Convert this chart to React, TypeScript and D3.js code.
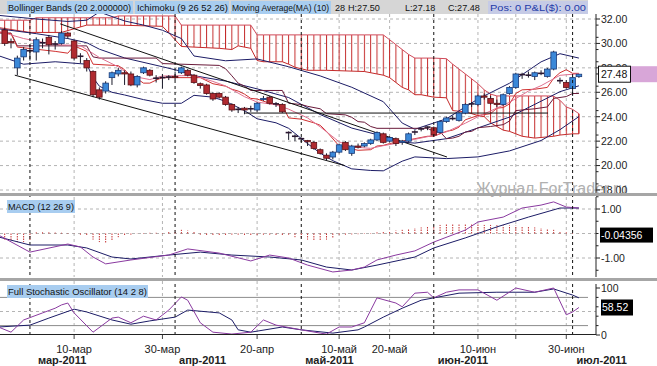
import * as d3 from "d3";

// ---- data ----------------------------------------------------------------
const DAYS = [
  "2011-02-23","2011-02-24","2011-02-25","2011-02-28",
  "2011-03-01","2011-03-02","2011-03-03","2011-03-04","2011-03-07","2011-03-08","2011-03-09","2011-03-10","2011-03-11",
  "2011-03-14","2011-03-15","2011-03-16","2011-03-17","2011-03-18","2011-03-21","2011-03-22","2011-03-23","2011-03-24",
  "2011-03-25","2011-03-28","2011-03-29","2011-03-30","2011-03-31",
  "2011-04-01","2011-04-04","2011-04-05","2011-04-06","2011-04-07","2011-04-08","2011-04-11","2011-04-12","2011-04-13",
  "2011-04-14","2011-04-15","2011-04-18","2011-04-19","2011-04-20","2011-04-21","2011-04-25","2011-04-26","2011-04-27",
  "2011-04-28","2011-04-29",
  "2011-05-02","2011-05-03","2011-05-04","2011-05-05","2011-05-06","2011-05-09","2011-05-10","2011-05-11","2011-05-12",
  "2011-05-13","2011-05-16","2011-05-17","2011-05-18","2011-05-19","2011-05-20","2011-05-23","2011-05-24","2011-05-25",
  "2011-05-26","2011-05-27","2011-05-31",
  "2011-06-01","2011-06-02","2011-06-03","2011-06-06","2011-06-07","2011-06-08","2011-06-09","2011-06-10","2011-06-13",
  "2011-06-14","2011-06-15","2011-06-16","2011-06-17","2011-06-20","2011-06-21","2011-06-22","2011-06-23","2011-06-24",
  "2011-06-27","2011-06-28","2011-06-29","2011-06-30",
  "2011-07-01","2011-07-05",
];

const OPEN = [31.1,30.15,28.0,28.9,29.45,29.3,30.1,30.5,29.9,30.0,30.85,30.2,28.9,28.6,27.7,26.2,26.1,27.2,27.5,27.6,27.5,26.6,27.6,27.8,27.1,27.25,27.2,27.3,27.6,27.8,27.4,26.7,26.6,25.9,25.9,25.6,25.0,24.65,24.7,24.6,24.55,25.4,25.6,25.0,25.0,22.7,22.45,22.25,22.05,21.9,21.3,20.85,20.7,21.1,21.9,21.0,21.6,21.6,21.8,22.1,22.6,22.0,22.2,21.9,22.0,22.7,23.0,23.1,23.1,22.7,23.6,23.9,23.7,24.3,25.0,25.0,25.7,25.5,25.1,25.0,25.9,26.4,27.4,27.45,27.3,27.6,27.3,27.9,26.9,26.8,26.3,27.28];
const HIGH = [31.3,30.4,29.0,29.7,29.9,30.5,30.4,30.7,30.2,31.0,30.95,30.3,29.2,28.8,27.8,26.4,26.9,27.7,28.0,27.8,27.7,27.4,28.1,27.9,27.4,27.5,27.4,27.7,28.1,27.9,27.5,26.8,26.7,26.0,26.0,25.7,25.1,24.8,24.8,24.9,25.2,25.7,25.7,25.2,25.1,22.8,22.55,22.3,22.1,22.0,21.4,21.0,21.2,21.8,22.0,21.7,21.8,21.9,22.2,22.8,22.7,22.4,22.3,22.1,22.7,22.9,23.1,23.2,23.2,23.7,24.0,24.1,24.4,25.1,25.2,25.8,25.9,25.7,25.4,25.9,26.5,27.6,27.6,27.7,27.7,27.8,28.0,29.4,27.2,27.0,27.3,27.5];
const LOW = [29.8,29.6,27.4,28.6,28.6,28.6,29.6,29.1,29.5,29.9,30.4,28.6,28.4,27.7,25.6,25.4,25.9,26.6,27.3,26.6,26.5,26.4,27.5,27.3,26.8,26.3,27.0,27.0,27.5,27.3,26.7,26.3,25.8,25.3,25.5,24.9,24.4,24.3,24.2,24.4,24.4,25.3,25.0,24.8,24.3,22.1,22.0,21.9,21.6,21.3,20.9,20.4,20.5,21.0,21.2,20.8,21.4,21.5,21.7,22.0,21.8,21.9,21.6,21.7,21.9,22.5,22.8,22.9,22.4,22.6,23.5,23.7,23.6,24.2,24.8,24.9,25.4,25.0,24.8,24.9,25.8,26.3,27.1,27.2,27.0,27.4,27.2,27.8,26.7,26.3,25.7,27.18];
const CLOSE = [30.0,30.05,28.8,29.5,29.4,30.3,30.05,29.9,29.95,30.85,30.6,28.8,28.95,28.0,25.8,25.6,26.75,27.6,27.8,27.5,26.6,27.3,28.0,27.4,27.15,27.2,27.25,27.2,28.0,27.4,26.8,26.55,25.9,25.45,25.6,25.0,24.55,24.6,24.55,24.65,25.1,25.5,25.1,25.05,24.4,22.7,22.4,22.2,21.95,21.4,21.0,20.6,21.1,21.7,21.3,21.6,21.5,21.8,22.1,22.7,21.9,22.3,21.8,22.0,22.6,22.75,23.0,23.15,22.5,23.6,23.9,23.85,24.3,25.0,25.05,25.7,25.6,25.1,25.0,25.8,26.4,27.5,27.45,27.4,27.6,27.55,27.9,29.3,26.95,26.4,27.2,27.48];

// indicator series: [day index, value] (day -1 = 2011-02-22)
const BB_UP = [[-1,32.3],[5,32.0],[10,31.8],[13,31.9],[15,32.57],[19,31.84],[22,31.5],[25,31.08],[28,30.4],[30,28.97],[35,28.58],[40,28.73],[45,28.09],[50,27.34],[55,26.41],[60,25.23],[63,23.48],[65,22.97],[70,23.83],[75,25.45],[80,26.74],[85,28.49],[88,29.16],[91,28.8]];
const BB_MID = [[-1,31.2],[5,30.8],[10,30.4],[13,30.06],[15,29.53],[19,28.81],[25,28.09],[28,27.72],[30,27.36],[35,26.92],[40,26.28],[45,25.57],[50,24.18],[55,23.07],[60,22.4],[63,21.92],[65,21.84],[70,22.2],[75,23.08],[80,23.97],[85,25.27],[88,26.05],[91,26.53]];
const BB_LOW = [[-1,29.0],[3,28.3],[8,28.5],[13,28.3],[14,27.2],[15,26.5],[17,26.0],[19,25.78],[22,25.4],[25,25.1],[28,25.1],[30,25.75],[33,25.6],[35,25.26],[38,24.5],[40,23.83],[43,23.5],[45,23.05],[48,21.8],[50,21.02],[52,20.4],[55,19.73],[58,19.6],[60,19.57],[63,20.36],[65,20.71],[70,20.57],[75,20.71],[80,21.2],[85,22.05],[88,22.94],[91,24.01]];
const MA10 = [[-1,31.0],[3,30.4],[6,30.1],[9,29.88],[12,29.83],[15,28.85],[18,28.08],[20,27.34],[23,27.04],[25,27.33],[28,27.36],[30,27.37],[33,26.89],[35,26.52],[38,25.64],[40,25.2],[43,24.97],[45,24.62],[48,23.9],[50,23.17],[53,21.95],[55,21.53],[58,21.41],[60,21.63],[63,21.9],[65,22.15],[68,22.47],[70,22.76],[73,23.47],[75,24.0],[78,24.71],[80,25.18],[83,26.1],[85,26.54],[88,27.39],[91,27.52]];
const TENKAN = [[-1,30.9],[1,30.8],[2,29.7],[8,29.35],[10,29.2],[11,29.8],[13,29.35],[14,28.3],[18,28.18],[19,27.85],[20,27.3],[21,27.1],[22,26.75],[23,26.75],[24,27.0],[25,27.2],[31,27.2],[33,26.7],[35,26.5],[36,26.25],[37,26.1],[38,25.85],[39,25.5],[40,25.45],[42,25.1],[44,24.95],[45,23.9],[47,23.8],[49,23.5],[50,23.3],[51,22.8],[53,21.6],[54,21.48],[56,21.25],[58,21.3],[59,21.6],[60,21.65],[61,21.8],[64,22.1],[65,22.2],[67,22.4],[68,22.4],[70,22.8],[71,22.9],[72,23.15],[73,23.75],[75,24.1],[77,24.25],[78,24.7],[79,24.75],[80,25.05],[81,25.9],[82,26.2],[84,26.25],[86,26.4],[87,27.15],[88,27.6],[89,27.85],[90,27.55],[91,27.55]];
const KIJUN = [[-1,30.85],[1,30.85],[2,29.8],[13,29.8],[14,28.9],[15,28.8],[24,28.8],[25,28.35],[34,28.2],[35,27.93],[36,27.35],[37,26.75],[38,26.5],[39,26.15],[44,26.15],[45,25.1],[47,25.0],[48,24.85],[50,24.65],[51,24.25],[54,24.15],[55,23.95],[56,23.6],[57,23.55],[58,23.2],[59,23.05],[67,23.05],[68,22.8],[69,22.75],[70,22.2],[71,22.25],[72,22.4],[73,22.75],[74,22.8],[75,23.1],[77,23.2],[79,23.35],[80,23.65],[81,24.5],[84,24.65],[86,24.8],[87,25.5],[89,25.65],[90,25.9],[91,25.9]];

// Ichimoku cloud: senkou span A and span B
const CLOUD_DAYS = [-1,4,5,9,13,17,18,25,26,27,28,34,36,37,39,40,41,44,45,46,48,51,57,60,61,62,63,64,65,66,68,70,71,73,75,76,77,78,79,80,82,84,86,87,88,89,90,91];
const CLOUD_A = [31.3,30.9,30.9,30.9,31.5,31.5,31.5,31.4,30.87,30.3,29.75,29.6,29.5,29.8,29.6,28.6,28.5,28.5,28.3,28.05,27.8,27.8,27.7,27.4,27.2,26.8,26.4,26.2,25.8,25.8,25.6,25.55,24.5,24.4,24.1,24.0,23.5,23.2,22.9,22.8,22.4,22.25,22.35,22.4,22.5,22.55,22.6,22.6];
const CLOUD_B = [31.9,31.9,32.1,32.1,32.1,32.1,32.25,32.25,32.25,32.25,31.5,31.5,31.5,31.5,31.5,30.7,30.7,30.7,30.7,30.7,30.7,30.7,30.7,30.7,30.3,29.9,29.5,29.1,28.8,28.8,28.8,28.75,28.3,27.5,26.7,26.2,25.85,25.7,25.7,25.7,25.7,25.7,25.7,25.68,25.35,24.8,24.6,24.25];

const MACD = [[-1,-0.06],[4,-0.76],[10,-0.43],[12,-0.55],[14,-0.96],[16,-1.24],[20,-1.08],[26,-0.88],[29,-0.63],[34,-0.8],[39,-1.12],[42,-0.88],[45,-1.0],[48,-1.29],[52,-1.57],[55,-1.49],[57,-1.37],[59,-1.08],[62,-0.88],[65,-0.71],[68,-0.35],[73,0.14],[75,0.47],[79,0.67],[82,1.04],[85,1.16],[87,1.29],[89,1.08],[91,1.04]];
const SIGNAL = [[-1,-0.14],[4,-0.47],[10,-0.47],[13,-0.59],[17,-0.96],[20,-1.04],[26,-0.88],[31,-0.76],[36,-0.88],[42,-0.96],[47,-1.08],[51,-1.37],[55,-1.49],[59,-1.29],[65,-0.96],[68,-0.59],[73,-0.18],[78,0.27],[83,0.67],[88,1.04],[91,1.04]];
const HIST = [-0.25,-0.3,-0.35,-0.35,-0.3,0.05,0.05,0.05,0.04,0.03,0.02,0.01,-0.05,-0.1,-0.25,-0.35,-0.4,-0.3,-0.15,-0.1,-0.05,0.01,0.02,0.03,0.03,0.02,0.1,0.12,0.15,0.12,0.1,-0.05,-0.06,-0.08,-0.08,-0.06,-0.05,-0.05,-0.06,-0.08,-0.06,-0.05,-0.05,-0.06,-0.08,-0.05,-0.15,-0.2,-0.25,-0.3,-0.3,-0.25,-0.2,-0.05,-0.05,-0.04,-0.03,-0.02,0.02,0.05,0.08,0.1,0.12,0.15,0.18,0.22,0.25,0.3,0.32,0.35,0.37,0.38,0.4,0.4,0.38,0.37,0.35,0.35,0.34,0.33,0.33,0.32,0.3,0.28,0.25,0.22,0.2,0.15,0.1,0.05,0.02,0.0];

const STOCH_K = [[-1,17],[1,6],[3,32],[6,47],[8,57],[9,64],[10,68],[11,47],[14,6],[17,36],[18,38],[20,26],[22,40],[24,32],[26,53],[28,81],[29,74],[31,26],[33,6],[36,2],[39,6],[41,32],[43,21],[47,11],[50,4],[51,2],[53,17],[55,17],[57,26],[59,79],[62,68],[63,60],[65,89],[67,91],[68,79],[70,91],[72,96],[75,96],[78,74],[81,100],[84,91],[87,100],[89,43],[90,49],[91,58.52]];
const STOCH_D = [[-1,17],[4,21],[7,36],[11,55],[13,49],[17,32],[20,23],[23,30],[27,38],[29,53],[34,47],[36,32],[37,11],[39,6],[44,17],[47,11],[52,4],[56,11],[57,17],[60,38],[63,57],[66,74],[68,79],[72,89],[78,91],[84,91],[87,98],[90,85],[91,79]];

const TREND = [
  { d0: 8.8, p0: 31.6, d1: 70.1, p1: 20.7 },
  { d0: 1.6, p0: 27.4, d1: 53.9, p1: 20.0 },
  { d0: 38.1, p0: 24.3, d1: 86.1, p1: 24.3 },
];

const DAY_TICKS = [
  ["2011-03-10", "10-мар"], ["2011-03-30", "30-мар"], ["2011-04-20", "20-апр"], ["2011-05-10", "10-май"],
  ["2011-05-20", "20-май"], ["2011-06-10", "10-июн"], ["2011-06-20", ""], ["2011-06-30", "30-июн"],
];
const MONTH_TICKS = [
  ["2011-03-01", "мар-2011"], ["2011-04-01", "апр-2011"], ["2011-05-02", "май-2011"],
  ["2011-06-01", "июн-2011"], ["2011-07-01", "июл-2011"],
];
const PRICE_TICKS = [18, 20, 22, 24, 26, 28, 30, 32];
const MACD_TICKS = [1, -1];
const STOCH_TICKS = [0, 100];
const LAST_PRICE = 27.48;
const LAST_MACD = -0.04356;
const LAST_STOCH = 58.52;

// ---- layout ---------------------------------------------------------------
const W = 657, H = 366;
const AXIS_X = 596;
const STEP = 6.31;
const FONT = "'Liberation Sans', Arial, sans-serif";

const x = d3.scaleLinear().domain([0, 91]).range([4.7, 4.7 + STEP * 91]);
const yP = d3.scaleLinear().domain([18, 32]).range([190, 19]);
const yM = d3.scaleLinear().domain([-1, 1]).range([258, 209]);
const yS = d3.scaleLinear().domain([0, 100]).range([335, 288]);
const idx = (d: string) => DAYS.indexOf(d);

const NAVY = "#1c1c66";
const PURPLE = "#8a3aa0";
const CLOUD_RED = "#c42a2a";

function series(pts: number[][], y: d3.ScaleLinear<number, number>) {
  return d3.line<number[]>().x((d) => x(d[0])).y((d) => y(d[1]))(pts) ?? "";
}

function Candles() {
  return (
    <g>
      {DAYS.map((_, i) => {
        const o = OPEN[i], c = CLOSE[i];
        const up = c > o;
        const flat = Math.abs(c - o) < 0.08;
        const cx = x(i);
        const top = yP(Math.max(o, c)), bot = yP(Math.min(o, c));
        return (
          <g key={i}>
            <line x1={cx} x2={cx} y1={yP(HIGH[i])} y2={yP(LOW[i])} stroke="#1a1a2a" strokeWidth={1} />
            {flat ? (
              <line x1={cx - 3} x2={cx + 3} y1={yP(c)} y2={yP(c)} stroke="#2a1630" strokeWidth={1.6} />
            ) : (
              <rect x={cx - 2.8} y={top} width={5.6} height={bot - top}
                fill={up ? "#3b88d8" : "#b02a30"} stroke={up ? "#1b3a78" : "#5c1016"} strokeWidth={0.8} />
            )}
          </g>
        );
      })}
    </g>
  );
}

function RightAxis({ y, ticks, minor, fmt, y0, y1 }: any) {
  return (
    <g fontFamily={FONT} fontSize={10.5} fill="#222">
      <line x1={AXIS_X} x2={AXIS_X} y1={y0} y2={y1} stroke="#222" />
      {minor.map((t: number) => (
        <line key={"m" + t} x1={AXIS_X} x2={AXIS_X + 2.5} y1={y(t)} y2={y(t)} stroke="#222" />
      ))}
      {ticks.map((t: number) => (
        <g key={t}>
          <line x1={AXIS_X} x2={AXIS_X + 4} y1={y(t)} y2={y(t)} stroke="#222" />
          <text x={AXIS_X + 5} y={y(t) + 3.8}>{fmt(t)}</text>
        </g>
      ))}
    </g>
  );
}

export default function App() {
  const monthIdx = MONTH_TICKS.map((m) => idx(m[0]));
  const dayIdx = DAY_TICKS.map((d) => idx(d[0]));
  const cloudPts = CLOUD_DAYS.map((d, i) => [d, CLOUD_A[i], CLOUD_B[i]]);
  const cloudArea = d3.area<number[]>().x((d) => x(d[0])).y0((d) => yP(d[1])).y1((d) => yP(d[2]))(cloudPts) ?? "";
  const minorP = d3.range(18.5, 32, 1);
  const minorM = [-1.5, -0.5, 0, 0.5, 1.5];
  const minorS = [20, 40, 60, 80];

  return (
    <div style={{ position: "fixed", left: 0, top: 0 }}>
      <svg width={W} height={H} style={{ display: "block", background: "#fff" }}>
        <defs>
          <pattern id="hatch" patternUnits="userSpaceOnUse" width={STEP} height={8} x={x(0) - 0.5}>
            <line x1={0.5} x2={0.5} y1={0} y2={8} stroke={CLOUD_RED} strokeWidth={1} />
          </pattern>
          <clipPath id="cMain"><rect x={0} y={14} width={AXIS_X} height={179} /></clipPath>
          <clipPath id="cMacd"><rect x={0} y={197} width={AXIS_X} height={80} /></clipPath>
          <clipPath id="cSto"><rect x={0} y={281} width={AXIS_X} height={53} /></clipPath>
        </defs>

        {/* grid */}
        <g stroke="#b4b4b4" strokeDasharray="3,3" strokeWidth={1}>
          {PRICE_TICKS.map((t) => <line key={t} x1={0} x2={AXIS_X} y1={yP(t)} y2={yP(t)} />)}
          {[1, 0, -1].map((t) => <line key={t} x1={0} x2={AXIS_X} y1={yM(t)} y2={yM(t)} />)}
          <line x1={0} x2={AXIS_X} y1={yS(50)} y2={yS(50)} />
          {dayIdx.map((i) => (
            <g key={i}>
              <line x1={x(i)} x2={x(i)} y1={14} y2={193} />
              <line x1={x(i)} x2={x(i)} y1={197} y2={277} />
              <line x1={x(i)} x2={x(i)} y1={281} y2={334} />
            </g>
          ))}
        </g>
        <g stroke="#8c8c8c" strokeWidth={1}>
          <line x1={0} x2={588} y1={yS(80)} y2={yS(80)} />
          <line x1={0} x2={588} y1={yS(20)} y2={yS(20)} />
        </g>

        {/* main panel */}
        <g clipPath="url(#cMain)">
          <path d={cloudArea} fill="url(#hatch)" stroke="none" />
          <path d={series(CLOUD_DAYS.map((d, i) => [d, CLOUD_B[i]]), yP)} fill="none" stroke="#d04a5a" strokeWidth={1} />
          <path d={series(CLOUD_DAYS.map((d, i) => [d, CLOUD_A[i]]), yP)} fill="none" stroke={CLOUD_RED} strokeWidth={1} />
          <line x1={x(91)} x2={x(91)} y1={yP(CLOUD_A[CLOUD_A.length - 1])} y2={yP(CLOUD_B[CLOUD_B.length - 1])} stroke={CLOUD_RED} strokeWidth={1.4} />
          <path d={series(BB_UP, yP)} fill="none" stroke={NAVY} strokeWidth={1} />
          <path d={series(BB_MID, yP)} fill="none" stroke={NAVY} strokeWidth={1} />
          <path d={series(BB_LOW, yP)} fill="none" stroke={NAVY} strokeWidth={1} />
          <path d={series(KIJUN, yP)} fill="none" stroke="#6a1a3a" strokeWidth={1} />
          <path d={series(TENKAN, yP)} fill="none" stroke="#d03030" strokeWidth={1} />
          <path d={series(MA10, yP)} fill="none" stroke="#e07090" strokeWidth={1} />
          {TREND.map((t, i) => (
            <line key={i} x1={x(t.d0)} y1={yP(t.p0)} x2={x(t.d1)} y2={yP(t.p1)} stroke="#111" strokeWidth={1} />
          ))}
          <Candles />
        </g>

        {/* MACD panel */}
        <g clipPath="url(#cMacd)">
          {HIST.map((v, i) => (
            <line key={i} x1={x(i)} x2={x(i)} y1={yM(0)} y2={yM(v)} stroke="#c43030" strokeWidth={1} strokeDasharray="1.5,1" />
          ))}
          <path d={series(SIGNAL, yM)} fill="none" stroke={NAVY} strokeWidth={1} />
          <path d={series(MACD, yM)} fill="none" stroke={PURPLE} strokeWidth={1} />
        </g>

        {/* stochastic panel */}
        <g clipPath="url(#cSto)">
          <path d={series(STOCH_D, yS)} fill="none" stroke={NAVY} strokeWidth={1} />
          <path d={series(STOCH_K, yS)} fill="none" stroke={PURPLE} strokeWidth={1} />
        </g>

        {/* month separators */}
        <g stroke="#111" strokeDasharray="3,3" strokeWidth={1}>
          {monthIdx.map((i) => (
            <line key={i} x1={x(i)} x2={x(i)} y1={14} y2={334} />
          ))}
        </g>

        {/* watermark */}
        <text x={476} y={193.5} fontFamily={FONT} fontSize={16} fill="#b0b0b0">Журнал ForTrader.ru</text>

        {/* axes */}
        <RightAxis y={yP} ticks={PRICE_TICKS} minor={minorP} fmt={(t: number) => t.toFixed(2)} y0={14} y1={193} />
        <RightAxis y={yM} ticks={MACD_TICKS} minor={minorM} fmt={(t: number) => t.toFixed(2)} y0={197} y1={277} />
        <RightAxis y={yS} ticks={STOCH_TICKS} minor={minorS} fmt={(t: number) => String(t)} y0={284} y1={335} />

        {/* last values */}
        <rect x={630} y={yP(LAST_PRICE) - 8} width={27} height={16} fill="#d8a6d8" />
        <rect x={598.5} y={yP(LAST_PRICE) - 8} width={32} height={16} fill="#fff" stroke="#111" />
        <text x={601} y={yP(LAST_PRICE) + 4} fontFamily={FONT} fontSize={10.5} fill="#111">{LAST_PRICE.toFixed(2)}</text>
        <rect x={600} y={yM(LAST_MACD) - 7} width={53} height={15} fill="#000" />
        <text x={601} y={yM(LAST_MACD) + 4} fontFamily={FONT} fontSize={10.5} fill="#fff">{LAST_MACD.toFixed(5)}</text>
        <rect x={601} y={yS(LAST_STOCH) - 8} width={32} height={16} fill="#000" />
        <text x={602} y={yS(LAST_STOCH) + 4} fontFamily={FONT} fontSize={10.5} fill="#fff">{LAST_STOCH.toFixed(2)}</text>

        {/* panel separators */}
        <rect x={0} y={193} width={W} height={3} fill="#a6a6a6" />
        <rect x={0} y={278} width={W} height={3} fill="#a6a6a6" />
        <line x1={0} x2={AXIS_X} y1={334.5} y2={334.5} stroke="#222" />

        {/* x axis */}
        <g fontFamily={FONT} fontSize={11} fill="#222">
          {dayIdx.map((i, k) => (
            <g key={i}>
              <line x1={x(i)} x2={x(i)} y1={335} y2={339} stroke="#444" />
              {DAY_TICKS[k][1] && (
                <text x={x(i)} y={352.5} textAnchor="middle">{DAY_TICKS[k][1]}</text>
              )}
            </g>
          ))}
          {monthIdx.map((i, k) => (
            <text key={i} x={x(i) + (k === 0 ? 8 : 4)} y={364} fontWeight="bold">{MONTH_TICKS[k][1]}</text>
          ))}
        </g>

        {/* panel titles */}
        <g fontFamily={FONT} fontSize={9.1} fill="#111">
          <rect x={0} y={0} width={588} height={14} fill="#d6d6d6" />
          <rect x={7} y={1} width={126} height={13} fill="#a8cdf0" />
          <text x={8} y={11} textLength={123} lengthAdjust="spacingAndGlyphs">Bollinger Bands (20 2.000000)</text>
          <rect x={135} y={1} width={94} height={13} fill="#a8cdf0" />
          <text x={137} y={11} textLength={91} lengthAdjust="spacingAndGlyphs">Ichimoku (9 26 52 26)</text>
          <rect x={231} y={1} width={100} height={13} fill="#a8cdf0" />
          <text x={232} y={11} fontSize={8.4} textLength={97} lengthAdjust="spacingAndGlyphs">Moving Average(MA) (10)</text>
          <text x={335} y={11}>28</text>
          <text x={348} y={11}>H:27.50</text>
          <text x={405} y={11}>L:27.18</text>
          <text x={448} y={11}>C:27.48</text>
          <rect x={488} y={1} width={100} height={13} fill="#c6cbe6" />
          <text x={490} y={11} fill="#1d3aa8" textLength={96} lengthAdjust="spacingAndGlyphs">Pos: 0 P&amp;L($): 0.00</text>
          <rect x={7} y={200} width={68} height={13} fill="#a8cdf0" />
          <text x={8} y={210} textLength={66} lengthAdjust="spacingAndGlyphs">MACD (12 26 9)</text>
          <rect x={7} y={285} width={141} height={13} fill="#a8cdf0" />
          <text x={8} y={295} textLength={139} lengthAdjust="spacingAndGlyphs">Full Stochastic Oscillator (14 2 8)</text>
        </g>
      </svg>
    </div>
  );
}
